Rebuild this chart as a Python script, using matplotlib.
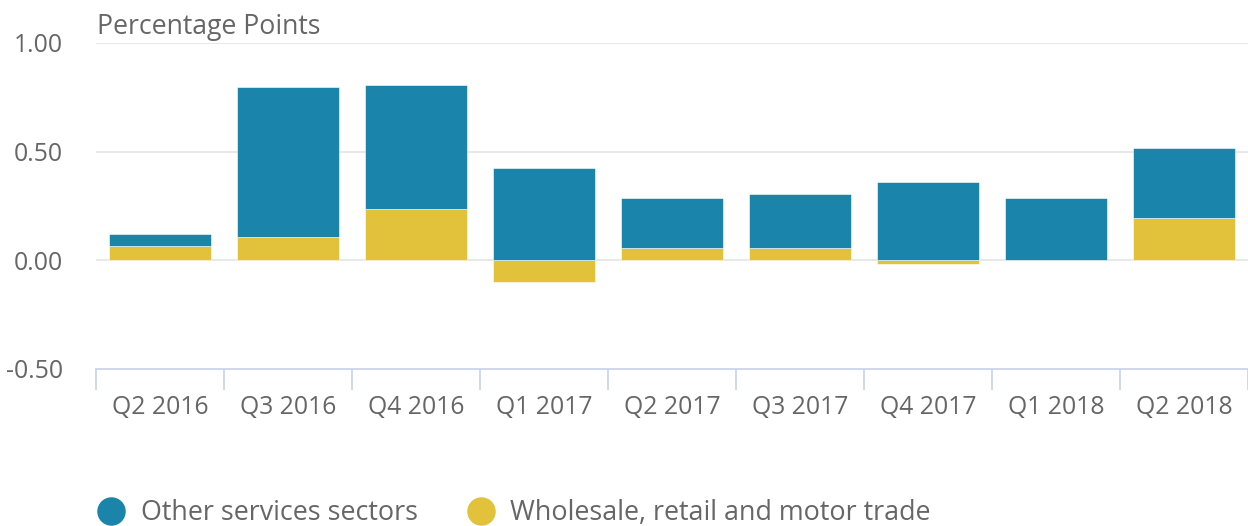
import matplotlib.pyplot as plt
from matplotlib.lines import Line2D
import numpy as np

quarters = ["Q2 2016", "Q3 2016", "Q4 2016", "Q1 2017", "Q2 2017",
            "Q3 2017", "Q4 2017", "Q1 2018", "Q2 2018"]
other_services = [0.052, 0.69, 0.575, 0.423, 0.23, 0.25, 0.36, 0.287, 0.322]
wholesale_retail = [0.068, 0.109, 0.234, -0.10, 0.057, 0.057, -0.015, 0.0, 0.194]
series_names = ["Other services sectors", "Wholesale, retail and motor trade"]

BLUE = "#1b84ab"
YELLOW = "#e2c23a"
TEXT = "#666666"
AXIS = "#ccd6eb"
GRID = "#e6e6e6"

plt.rcParams['font.family'] = ['Open Sans', 'DejaVu Sans']

W, H = 1248, 526
fig = plt.figure(figsize=(W / 100, H / 100), dpi=100)
ax = fig.add_axes([96 / W, 1 - 369 / H, 1 - 96 / W, (369 - 43) / H])

x = np.arange(len(quarters))
yellow = np.array(wholesale_retail)
blue = np.array(other_services)
# positive stacks start on top of positive yellow, else on zero
blue_base = np.where(yellow > 0, yellow, 0)

ax.bar(x, yellow, width=0.795, color=YELLOW, edgecolor="white", linewidth=0.4, zorder=3)
ax.bar(x, blue, bottom=blue_base, width=0.795, color=BLUE, edgecolor="white", linewidth=0.4, zorder=3)

ax.set_xlim(-0.5, len(quarters) - 0.5)
ax.set_ylim(-0.5, 1.0)

for y in [0.0, 0.5, 1.0]:
    ax.axhline(y, color=GRID, linewidth=1.3, zorder=1)

for side in ["top", "right", "left"]:
    ax.spines[side].set_visible(False)
ax.spines["bottom"].set_color(AXIS)
ax.spines["bottom"].set_linewidth(1.3)

ax.set_xticks(np.arange(-0.5, len(quarters), 1.0))
ax.set_xticklabels([])
ax.tick_params(axis="x", which="major", length=15, color=AXIS, width=1.3)
ax.set_xticks(x, minor=True)
ax.set_xticklabels(quarters, minor=True)
ax.tick_params(axis="x", which="minor", length=0, pad=18.5, labelsize=17.8, labelcolor=TEXT)

ax.set_yticks([-0.5, 0.0, 0.5, 1.0])
ax.set_yticklabels(["-0.50", "0.00", "0.50", "1.00"])
ax.tick_params(axis="y", length=0, pad=24, labelsize=17.8, labelcolor=TEXT)

fig.text(97 / W, 1 - 27 / H, "Percentage Points", fontsize=19.2, color=TEXT,
         ha="left", va="center")

# legend drawn by hand to match the spacing of the original
legend_items = [(111, 141, BLUE), (481, 510, YELLOW)]
for (cx, tx, col), name in zip(legend_items, series_names):
    fig.add_artist(Line2D([cx / W], [1 - 511 / H], marker="o", markersize=19.5,
                          color=col, linestyle="", transform=fig.transFigure))
    fig.text(tx / W, 1 - 513 / H, name, fontsize=19.4, color=TEXT,
             ha="left", va="center")

fig.savefig("out.png", dpi=100)
